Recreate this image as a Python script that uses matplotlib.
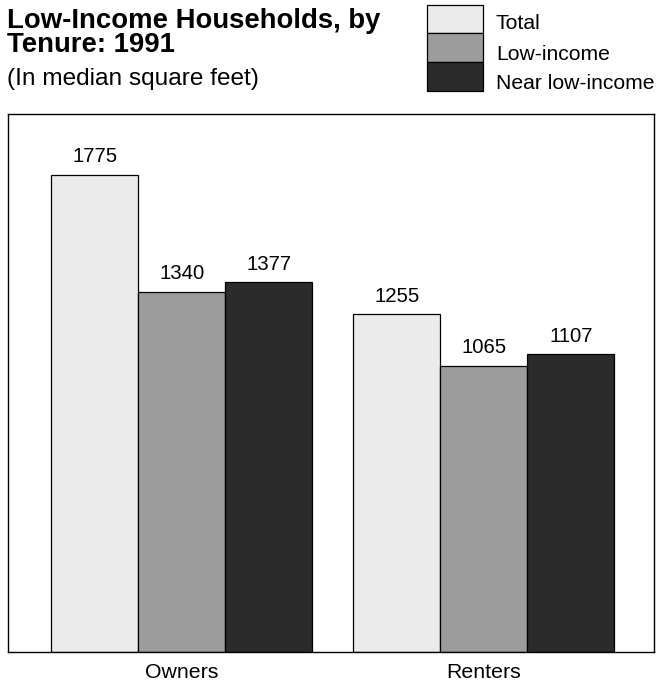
import matplotlib
matplotlib.use("Agg")
import matplotlib.pyplot as plt
from matplotlib.patches import Rectangle

plt.rcParams['font.family'] = ['Liberation Sans', 'DejaVu Sans']

# Data
categories = ["Owners", "Renters"]
series_names = ["Total", "Low-income", "Near low-income"]
total = [1775, 1255]
low_income = [1340, 1065]
near_low_income = [1377, 1107]
series_values = [total, low_income, near_low_income]
fills = ["#ebebeb", "#9c9c9c", "#2b2b2b"]

W, H = 657, 686
fig = plt.figure(figsize=(W / 100, H / 100), dpi=100)

def fx(px):
    return px / W

def fy(py):
    return 1 - py / H

# plot frame in pixel terms
left, right, top, bottom = 8, 654, 114, 652
ax = fig.add_axes([fx(left), fy(bottom), fx(right - left), (bottom - top) / H])

bar_w = 0.288
offsets = [-bar_w, 0, bar_w]
for vals, off, col in zip(series_values, offsets, fills):
    xs = [i + off for i in range(len(categories))]
    ax.bar(xs, vals, width=bar_w, color=col, edgecolor="black", linewidth=0.9)
    for x, v in zip(xs, vals):
        ax.text(x, v + 30, f"{v}", ha="center", va="bottom", fontsize=14.7)

ax.set_xlim(-0.576, 1.563)
ax.set_ylim(0, 2000)
ax.set_yticks([])
ax.set_xticks(range(len(categories)))
ax.set_xticklabels(categories, fontsize=15.3)
ax.tick_params(axis="x", length=0, pad=8)
for s in ax.spines.values():
    s.set_linewidth(1.0)

# Title block
fig.text(fx(7), fy(28), "Low-Income Households, by", fontsize=19.8, fontweight="bold",
         ha="left", va="baseline")
fig.text(fx(7), fy(52), "Tenure: 1991", fontsize=19.8, fontweight="bold",
         ha="left", va="baseline")
fig.text(fx(7), fy(85), "(In median square feet)", fontsize=17.6,
         ha="left", va="baseline")

# Legend: stacked swatches with labels to the right
box_x, box_w = 427, 56
box_edges = [5, 33, 62, 91]
label_y = [29, 60, 89]
for i, (name, col) in enumerate(zip(series_names, fills)):
    y0, y1 = box_edges[i], box_edges[i + 1]
    fig.patches.append(Rectangle((fx(box_x), fy(y1)), box_w / W, (y1 - y0) / H,
                                 transform=fig.transFigure, facecolor=col,
                                 edgecolor="black", linewidth=0.9))
    fig.text(fx(496), fy(label_y[i]), name, fontsize=15.2, ha="left", va="baseline")

fig.savefig("out.png", dpi=100)
